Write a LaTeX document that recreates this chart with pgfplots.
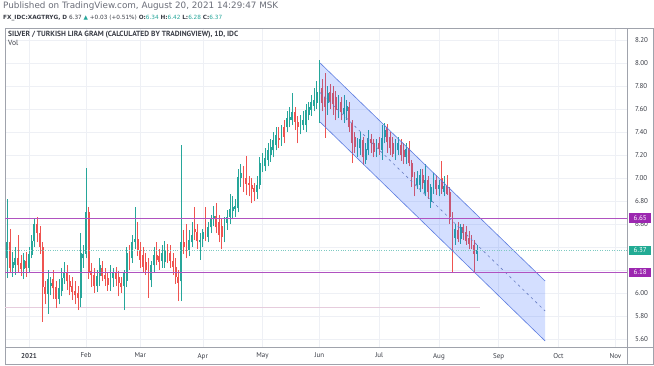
\documentclass[border=0pt]{standalone}
\usepackage{pgfplots}
\pgfplotsset{compat=1.18}
\usepackage{pgfplotstable}
\usepackage{fontspec}
\setmainfont{PT Sans}
\newfontfamily\symfont{DejaVu Sans}
\newfontfamily\hdrfont{DejaVu Sans}
\definecolor{upc}{HTML}{26A69A}
\definecolor{dnc}{HTML}{EF5350}
\definecolor{purp}{HTML}{9C27B0}
\definecolor{chan}{HTML}{2962FF}
\definecolor{chanline}{HTML}{5C7CE0}
\definecolor{gridc}{HTML}{EEF0F5}
\definecolor{framec}{HTML}{A0A3AC}
\definecolor{tickc}{HTML}{3A3D46}
\definecolor{hdrc}{HTML}{6A6D78}
\definecolor{pricebox}{HTML}{22AB94}
\definecolor{pinkline}{HTML}{E6CCDD}

\pgfplotstableread{
i o h l c
-8 6.30 6.82 6.13 6.44
-6 6.22 6.36 6.14 6.27
-5 6.24 6.40 6.16 6.30
-2 6.21 6.35 6.12 6.29
0 6.22 6.40 6.18 6.34
1 6.33 6.50 6.30 6.45
2 6.45 6.64 6.40 6.60
7 5.99 6.20 5.82 6.12
8 6.06 6.14 5.98 6.09
11 5.95 6.12 5.90 6.04
12 6.02 6.22 5.97 6.13
13 6.13 6.27 6.08 6.17
19 5.96 6.52 5.88 6.35
20 6.30 6.42 6.22 6.34
21 6.34 7.09 6.30 6.70
25 6.06 6.20 6.01 6.15
26 6.15 6.30 6.06 6.24
30 6.08 6.24 6.02 6.19
31 6.13 6.22 6.05 6.17
35 6.06 6.20 5.85 6.17
36 6.10 6.40 6.05 6.35
38 6.30 6.50 6.26 6.44
39 6.44 6.75 6.38 6.47
45 6.11 6.28 6.05 6.24
46 6.24 6.40 6.18 6.33
49 6.28 6.42 6.22 6.35
50 6.27 6.45 6.22 6.37
56 6.10 7.29 5.93 6.44
59 6.37 6.55 6.32 6.46
60 6.44 6.62 6.40 6.50
63 6.44 6.52 6.29 6.46
64 6.47 6.56 6.40 6.53
66 6.49 6.62 6.44 6.57
67 6.57 6.68 6.52 6.64
68 6.64 6.76 6.58 6.67
72 6.50 6.66 6.44 6.64
73 6.61 6.72 6.55 6.66
74 6.66 6.86 6.60 6.73
75 6.71 6.84 6.64 6.75
76 6.73 6.82 6.66 6.76
77 6.74 7.08 6.70 7.01
78 7.00 7.12 6.92 7.04
84 6.88 7.02 6.82 6.94
85 6.94 7.18 6.90 7.13
86 7.10 7.22 7.05 7.13
87 7.10 7.26 7.06 7.17
88 7.16 7.30 7.10 7.24
89 7.20 7.34 7.14 7.27
90 7.24 7.40 7.18 7.33
91 7.29 7.44 7.24 7.37
93 7.33 7.46 7.28 7.39
95 7.44 7.58 7.40 7.52
96 7.50 7.62 7.44 7.53
97 7.50 7.74 7.46 7.57
100 7.45 7.55 7.38 7.48
101 7.46 7.58 7.42 7.50
102 7.46 7.64 7.40 7.59
103 7.55 7.66 7.50 7.62
104 7.59 7.72 7.54 7.66
105 7.63 7.78 7.58 7.68
106 7.65 7.84 7.60 7.75
107 7.66 8.03 7.48 7.77
110 7.65 7.80 7.55 7.74
114 7.58 7.72 7.52 7.66
116 7.56 7.72 7.48 7.61
117 7.58 7.68 7.50 7.63
121 7.23 7.35 7.18 7.30
122 7.26 7.40 7.20 7.34
124 7.16 7.30 7.12 7.25
125 7.24 7.42 7.20 7.35
128 7.23 7.34 7.18 7.28
130 7.24 7.46 7.16 7.35
131 7.36 7.48 7.30 7.42
135 7.22 7.34 7.16 7.28
136 7.24 7.36 7.20 7.30
139 7.18 7.30 7.12 7.25
143 6.94 7.06 6.90 7.00
144 6.94 7.08 6.88 7.03
146 6.87 7.12 6.84 6.98
148 6.79 6.95 6.74 6.92
149 6.90 7.04 6.86 6.98
151 6.90 6.98 6.84 6.94
153 6.88 7.02 6.84 6.93
157 6.48 6.60 6.42 6.56
159 6.47 6.60 6.43 6.57
165 6.34 6.42 6.28 6.37
}\uptab

\pgfplotstableread{
i o h l c
-7 6.44 6.56 6.17 6.22
-4 6.30 6.50 6.18 6.24
-3 6.26 6.33 6.15 6.21
-1 6.28 6.36 6.14 6.22
3 6.60 6.66 6.44 6.52
4 6.52 6.58 6.34 6.40
5 6.40 6.44 5.75 6.05
6 6.05 6.10 5.90 5.99
9 6.12 6.20 5.95 6.04
10 6.05 6.10 5.87 5.95
14 6.17 6.24 6.03 6.10
15 6.10 6.16 5.98 6.05
16 6.06 6.14 5.94 6.01
17 6.02 6.10 5.90 5.98
18 6.00 6.06 5.85 5.96
22 6.70 6.75 6.12 6.18
23 6.19 6.26 6.05 6.16
24 6.16 6.22 6.00 6.06
27 6.22 6.28 6.10 6.15
28 6.16 6.22 6.06 6.12
29 6.13 6.18 6.02 6.07
32 6.17 6.23 6.06 6.12
33 6.14 6.19 5.97 6.09
34 6.09 6.14 6.00 6.05
37 6.35 6.42 6.20 6.27
40 6.47 6.62 6.32 6.37
41 6.37 6.44 6.22 6.29
42 6.33 6.40 6.18 6.23
43 6.27 6.35 6.16 6.20
44 6.23 6.30 5.96 6.11
47 6.33 6.44 6.24 6.29
48 6.32 6.38 6.20 6.27
51 6.37 6.43 6.26 6.32
52 6.35 6.42 6.22 6.28
53 6.28 6.35 6.16 6.23
54 6.23 6.30 6.08 6.14
55 6.14 6.20 5.93 6.09
57 6.44 6.55 6.34 6.40
58 6.41 6.60 6.30 6.37
61 6.56 6.75 6.46 6.53
62 6.53 6.60 6.38 6.45
65 6.55 6.75 6.45 6.49
69 6.67 6.78 6.52 6.57
70 6.62 6.68 6.44 6.50
71 6.58 6.64 6.38 6.49
79 7.01 7.10 6.88 6.97
80 7.00 7.19 6.85 6.95
81 6.96 7.02 6.84 6.94
82 6.94 7.00 6.78 6.90
83 6.91 6.96 6.80 6.88
92 7.35 7.44 7.26 7.33
94 7.44 7.50 7.30 7.36
98 7.57 7.62 7.42 7.49
99 7.49 7.54 7.30 7.44
108 7.78 7.86 7.58 7.65
109 7.70 7.91 7.35 7.62
111 7.75 7.82 7.60 7.66
112 7.74 7.80 7.55 7.64
113 7.70 7.76 7.50 7.59
115 7.66 7.70 7.50 7.57
118 7.62 7.66 7.40 7.44
119 7.48 7.50 7.13 7.30
120 7.36 7.40 7.22 7.27
123 7.33 7.36 7.11 7.18
126 7.34 7.38 7.22 7.30
127 7.30 7.34 7.18 7.23
129 7.30 7.36 7.20 7.25
132 7.44 7.47 7.22 7.31
133 7.36 7.40 7.20 7.26
134 7.30 7.36 7.18 7.21
137 7.29 7.34 7.15 7.20
138 7.24 7.30 7.12 7.18
140 7.26 7.32 7.10 7.13
141 7.13 7.16 6.92 7.01
142 7.01 7.05 6.84 6.94
145 7.03 7.08 6.90 6.96
147 6.98 7.02 6.82 6.88
150 6.98 7.03 6.85 6.90
152 7.00 7.15 6.86 6.90
154 6.93 7.03 6.85 6.86
155 6.88 6.92 6.60 6.66
156 6.66 6.70 6.18 6.48
158 6.55 6.62 6.44 6.47
160 6.57 6.60 6.46 6.52
161 6.53 6.58 6.42 6.45
162 6.48 6.54 6.38 6.43
163 6.45 6.50 6.38 6.41
164 6.42 6.46 6.17 6.34
}\dntab

\begin{document}
\begin{tikzpicture}[x=1pt,y=1pt]
\useasboundingbox (0,0) rectangle (654,366);
\fill[white] (0,0) rectangle (654,366);
% outer frame
\draw[framec, line width=0.6pt] (5,2) rectangle (653,338);
\draw[framec, line width=0.6pt] (627,2) -- (627,338);
\draw[framec, line width=0.6pt] (5,19) -- (653,19);
\begin{axis}[
  at={(5pt,19pt)}, anchor=south west, scale only axis,
  width=622pt, height=319pt,
  xmin=-8.84, xmax=220.26, ymin=5.5304, ymax=8.3043,
  clip mode=individual,
  axis line style={draw=framec, line width=0.6pt},
  xtick={0,21,41,64,86,107,129,151,173,195,216},
  xticklabels={\textbf{2021},Feb,Mar,Apr,May,Jun,Jul,Aug,Sep,Oct,Nov},
  ytick={5.6,5.8,6.0,6.2,6.4,6.6,6.8,7.0,7.2,7.4,7.6,7.8,8.0,8.2},
  yticklabels={5.60,5.80,6.00,,,6.60,6.80,7.00,7.20,7.40,7.60,7.80,8.00,8.20},
  yticklabel pos=right,
  major tick length=0pt,
  grid=major, major grid style={gridc, line width=0.5pt},
  tick label style={font=\fontsize{7}{8}\selectfont, text=tickc},
  xticklabel style={yshift=-2.5pt},
  yticklabel style={anchor=west, xshift=4.5pt},
]
% faint low line
\addplot[pinkline, line width=0.6pt, forget plot] coordinates {(-9,5.878) (166,5.878)};
% wicks
\addplot[draw=none, no markers, forget plot, error bars/.cd, y dir=plus, y explicit, error mark=none,
  error bar style={draw=upc, line width=0.65pt}]
  table[x=i, y=l, y error plus expr=\thisrow{h}-\thisrow{l}] {\uptab};
\addplot[draw=none, no markers, forget plot, error bars/.cd, y dir=plus, y explicit, error mark=none,
  error bar style={draw=dnc, line width=0.65pt}]
  table[x=i, y=l, y error plus expr=\thisrow{h}-\thisrow{l}] {\dntab};
% bodies
\addplot[draw=none, no markers, forget plot, error bars/.cd, y dir=plus, y explicit, error mark=none,
  error bar style={draw=upc, line width=1.9pt}]
  table[x=i, y=o, y error plus expr={max(\thisrow{c}-\thisrow{o},0.009)}] {\uptab};
\addplot[draw=none, no markers, forget plot, error bars/.cd, y dir=plus, y explicit, error mark=none,
  error bar style={draw=dnc, line width=1.9pt}]
  table[x=i, y=c, y error plus expr={max(\thisrow{o}-\thisrow{c},0.009)}] {\dntab};
% channel
\addplot[fill=chan, fill opacity=0.2, draw=none, forget plot] coordinates {(107.2,8.00) (190.1,6.104) (190.1,5.583) (107.2,7.487)} -- cycle;
\addplot[chanline, line width=0.6pt, forget plot] coordinates {(107.2,8.00) (190.1,6.104)};
\addplot[chanline, line width=0.6pt, forget plot] coordinates {(107.2,7.487) (190.1,5.583)};
\addplot[chanline!70!gray, line width=0.6pt, dash pattern=on 2.5pt off 3.5pt, forget plot] coordinates {(107.2,7.7435) (190.1,5.8435)};
% horizontal levels
\addplot[purp!80, line width=0.6pt, forget plot] coordinates {(-9,6.65) (221,6.65)};
\addplot[purp!80, line width=0.6pt, forget plot] coordinates {(-9,6.18) (221,6.18)};
\addplot[upc!60, line width=0.5pt, dash pattern=on 0.8pt off 1.6pt, forget plot] coordinates {(-9,6.37) (221,6.37)};
% price labels
\node[fill=purp, text=white, font=\fontsize{7}{8}\selectfont, inner sep=0pt, minimum width=22pt, minimum height=9.5pt, anchor=west, xshift=2pt] at (axis cs:220.26,6.65) {6.65};
\node[fill=pricebox, text=white, font=\fontsize{7}{8}\selectfont, inner sep=0pt, minimum width=22pt, minimum height=9.5pt, anchor=west, xshift=2pt] at (axis cs:220.26,6.37) {6.37};
\node[fill=purp, text=white, font=\fontsize{7}{8}\selectfont, inner sep=0pt, minimum width=22pt, minimum height=9.5pt, anchor=west, xshift=2pt] at (axis cs:220.26,6.18) {6.18};
\end{axis}
% header
\node[anchor=base west, inner sep=0pt, text=hdrc] at (3,357) {\resizebox{275pt}{!}{\hdrfont Published on TradingView.com, August 20, 2021 14:29:47 MSK}};
\node[anchor=base west, inner sep=0pt, text=tickc] at (3,346.5) {\resizebox{219pt}{!}{\hdrfont\textbf{FX\_IDC:XAGTRYG, D} 6.37 {\color{upc}▲} +0.03 (+0.51\%) \textbf{O:}{\color{upc}6.34} \textbf{H:}{\color{upc}6.42} \textbf{L:}{\color{upc}6.28} \textbf{C:}{\color{upc}6.37}}};
\node[anchor=base west, inner sep=0pt, text=tickc] at (8,329) {\resizebox{230pt}{!}{\textbf{SILVER / TURKISH LIRA GRAM (CALCULATED BY TRADINGVIEW), 1D, IDC}}};
\node[anchor=base west, inner sep=0pt, text=tickc, font=\fontsize{7.5}{9}\selectfont] at (8,320) {Vol};
\end{tikzpicture}
\end{document}
